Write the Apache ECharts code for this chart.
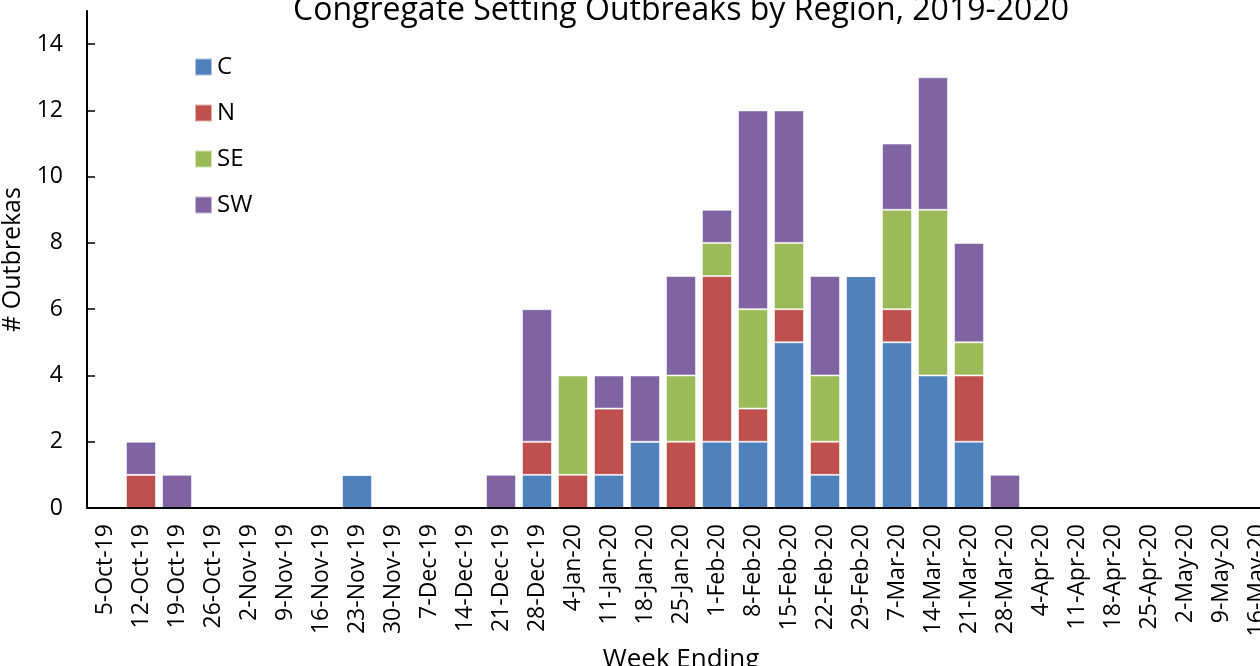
<!DOCTYPE html>
<html>
<head>
<meta charset="utf-8">
<title>Congregate Setting Outbreaks by Region</title>
<script src="https://cdn.jsdelivr.net/npm/echarts@6/dist/echarts.min.js"></script>
<style>
	html, body {
		margin: 0;
		padding: 0;
		background: #fff;
	}

	#chart {
		width: 1260px;
		height: 666px;
	}
</style>
</head>

<body>
	<div id="chart"></div>
</body>
<script>
	// week ending dates
	var weeks = ['5-Oct-19', '12-Oct-19', '19-Oct-19', '26-Oct-19', '2-Nov-19', '9-Nov-19', '16-Nov-19',
		'23-Nov-19', '30-Nov-19', '7-Dec-19', '14-Dec-19', '21-Dec-19', '28-Dec-19', '4-Jan-20', '11-Jan-20',
		'18-Jan-20', '25-Jan-20', '1-Feb-20', '8-Feb-20', '15-Feb-20', '22-Feb-20', '29-Feb-20', '7-Mar-20',
		'14-Mar-20', '21-Mar-20', '28-Mar-20', '4-Apr-20', '11-Apr-20', '18-Apr-20', '25-Apr-20', '2-May-20',
		'9-May-20', '16-May-20'];

	// outbreaks per region
	var regionC = [0, 0, 0, 0, 0, 0, 0, 1, 0, 0, 0, 0, 1, 0, 1, 2, 0, 2, 2, 5, 1, 7, 5, 4, 2, 0, 0, 0, 0, 0, 0, 0, 0];
	var regionN = [0, 1, 0, 0, 0, 0, 0, 0, 0, 0, 0, 0, 1, 1, 2, 0, 2, 5, 1, 1, 1, 0, 1, 0, 2, 0, 0, 0, 0, 0, 0, 0, 0];
	var regionSE = [0, 0, 0, 0, 0, 0, 0, 0, 0, 0, 0, 0, 0, 3, 0, 0, 2, 1, 3, 2, 2, 0, 3, 5, 1, 0, 0, 0, 0, 0, 0, 0, 0];
	var regionSW = [0, 1, 1, 0, 0, 0, 0, 0, 0, 0, 0, 1, 4, 0, 1, 2, 3, 1, 6, 4, 3, 0, 2, 4, 3, 1, 0, 0, 0, 0, 0, 0, 0];

	var font = 'Open Sans';

	function barSeries(name, data, color) {
		return {
			name: name,
			type: 'bar',
			stack: 'total',
			data: data,
			barWidth: 30,
			itemStyle: {
				color: color,
				borderColor: 'rgba(255,255,255,0.55)',
				borderWidth: 1
			}
		};
	}

	var chart = echarts.init(document.getElementById('chart'));
	var option = {
		animation: false,
		textStyle: { fontFamily: font, color: '#000' },
		title: {
			text: 'Congregate Setting Outbreaks by Region, 2019-2020',
			left: 676,
			textAlign: 'center',
			top: -10,
			textStyle: { fontFamily: font, fontSize: 32, fontWeight: 'normal', color: '#000' }
		},
		legend: {
			orient: 'vertical',
			left: 194,
			top: 55,
			padding: 0,
			icon: 'rect',
			itemWidth: 17,
			itemHeight: 17,
			itemGap: 22,
			textStyle: { fontFamily: font, fontSize: 24, color: '#000' },
			data: ['C', 'N', 'SE', 'SW']
		},
		grid: {
			left: 87,
			right: -15,
			top: 11,
			bottom: 158,
			outerBoundsMode: 'none'
		},
		xAxis: {
			type: 'category',
			data: weeks,
			z: 3,
			name: 'Week Ending',
			nameLocation: 'middle',
			nameGap: 139,
			nameTextStyle: { fontFamily: font, fontSize: 26, color: '#000' },
			axisLine: { lineStyle: { color: '#000', width: 2 } },
			axisTick: { inside: true, length: 7, interval: 0, lineStyle: { color: '#000', width: 1.5 } },
			axisLabel: { interval: 0, rotate: 90, margin: 16, fontFamily: font, fontSize: 23, color: '#000' }
		},
		yAxis: {
			type: 'value',
			min: 0,
			max: 15,
			interval: 2,
			z: 3,
			name: '# Outbrekas',
			nameLocation: 'middle',
			nameGap: 44,
			nameTextStyle: { fontFamily: font, fontSize: 25, color: '#000' },
			splitLine: { show: false },
			axisLine: { show: true, lineStyle: { color: '#000', width: 2 } },
			axisTick: { show: true, inside: true, length: 8, lineStyle: { color: '#000', width: 1.5 } },
			axisLabel: { margin: 24, showMaxLabel: false, fontFamily: font, fontSize: 23, color: '#000' }
		},
		series: [
			barSeries('C', regionC, '#4F81BD'),
			barSeries('N', regionN, '#C0504D'),
			barSeries('SE', regionSE, '#9BBB59'),
			barSeries('SW', regionSW, '#8064A2')
		]
	};
	chart.setOption(option);
</script>

</html>
